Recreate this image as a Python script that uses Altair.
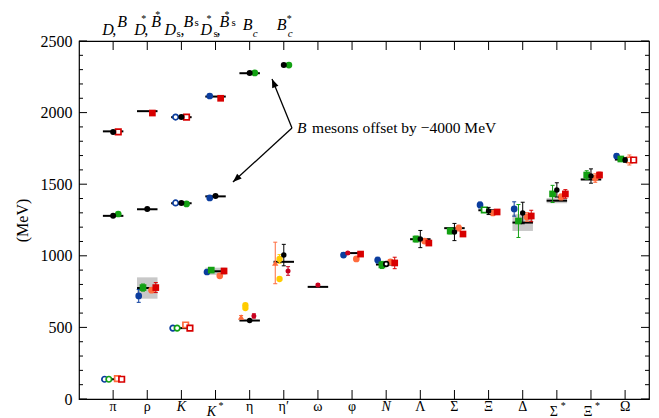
import altair as alt
import pandas as pd

# ---------------- data ----------------
CATS = ["π", "ρ", "K", "K*", "η", "η′", "ω", "φ", "N", "Λ", "Σ", "Ξ", "Δ", "Σ*", "Ξ*", "Ω"]
EXP_MASS = [138, 775, 495, 892, 548, 958, 783, 1019, 939, 1116, 1193, 1318, 1232, 1385, 1533, 1672]
EXP_WIDTH = [0, 149, 0, 50, 0, 0, 0, 0, 0, 0, 0, 0, 117, 36, 9, 0]

# heavy mesons (B mesons offset by -4000 MeV), drawn in the first columns
HEAVY_EXP_CATS = ["π", "ρ", "K", "K*", "π", "ρ", "K", "K*", "η"]
HEAVY_EXP_VALS = [1869, 2010, 1968, 2112, 1279, 1325, 1367, 1415, 2275]

# light hadrons: categories, values, errors
BLUE_CATS = ["ρ", "K*", "φ", "N", "Ξ", "Δ", "Ω"]
BLUE_VALS = [720, 887, 1005, 970, 1355, 1327, 1697]
BLUE_ERRS = [45, 15, 15, 20, 20, 50, 12]
BLUE_OPEN_CATS = ["π", "K"]
BLUE_OPEN_VALS = [138, 495]

GREEN_CATS = ["ρ", "K*", "N", "Λ", "Σ", "Δ", "Σ*", "Ξ*", "Ω"]
GREEN_VALS = [778, 900, 936, 1117, 1173, 1243, 1432, 1564, 1676]
GREEN_ERRS = [25, 15, 25, 20, 20, 115, 60, 30, 15]
GREEN_OPEN_CATS = ["π", "K"]
GREEN_OPEN_VALS = [138, 495]
GREEN_OPEN_SQ_CATS = ["Ξ"]
GREEN_OPEN_SQ_VALS = [1320]

BLACK_CATS = ["η", "η′", "Λ", "Σ", "Ξ", "Δ", "Σ*", "Ξ*", "Ω"]
BLACK_VALS = [548, 1005, 1117, 1166, 1313, 1299, 1460, 1557, 1669]
BLACK_ERRS = [8, 75, 60, 60, 25, 75, 50, 50, 15]
BLACK_OPEN_CATS = ["N"]
BLACK_OPEN_VALS = [943]

ORANGE_CATS = ["ρ", "K*", "φ", "N", "Λ", "Σ", "Ξ", "Δ", "Σ*", "Ξ*"]
ORANGE_VALS = [760, 860, 978, 957, 1103, 1194, 1299, 1271, 1411, 1543]
ORANGE_ERRS = [15, 12, 15, 15, 15, 20, 15, 30, 20, 30]
ORANGE_OPEN_CATS = ["π", "K", "Ω"]
ORANGE_OPEN_VALS = [142, 517, 1669]
ORANGE_OPEN_ERRS = [0, 0, 35]
ORANGE_TRI_CATS = ["η", "η′"]
ORANGE_TRI_VALS = [573, 950]
ORANGE_TRI_ERRS = [10, 145]

RED_CATS = ["ρ", "K*", "φ", "N", "Λ", "Σ", "Ξ", "Δ", "Σ*", "Ξ*"]
RED_VALS = [778, 894, 1012, 950, 1089, 1152, 1306, 1278, 1432, 1564]
RED_ERRS = [35, 10, 10, 40, 15, 15, 12, 40, 30, 20]
RED_OPEN_CATS = ["π", "K", "Ω"]
RED_OPEN_VALS = [138, 495, 1669]

DARKRED_CATS = ["η", "η′", "ω", "φ"]
DARKRED_VALS = [580, 894, 796, 1020]
DARKRED_ERRS = [15, 30, 10, 8]
DARKRED_SLOTS = [0.125, 0.125, 0.0, -0.125]

YELLOW_CATS = ["η", "η", "η′", "η′"]
YELLOW_VALS = [655, 635, 978, 838]
YELLOW_ERRS = [0, 0, 30, 0]

# heavy-light mesons
H_BLACK_CATS = ["π", "π", "ρ", "K", "K", "K*", "η", "η′"]
H_BLACK_VALS = [1865, 1279, 1327, 1969, 1369, 1418, 2277, 2332]
H_BLUE_CATS = ["K*", "K*"]
H_BLUE_VALS = [2116, 1404]
H_BLUE_OPEN_CATS = ["K", "K"]
H_BLUE_OPEN_VALS = [1969, 1369]
H_RED_CATS = ["ρ", "K*"]
H_RED_VALS = [1997, 2100]
H_RED_OPEN_CATS = ["π", "K"]
H_RED_OPEN_VALS = [1865, 1969]
H_GREEN_CATS = ["π", "K", "η", "η′"]
H_GREEN_VALS = [1292, 1362, 2277, 2332]

Y_MAJOR = [0, 500, 1000, 1500, 2000, 2500]
Y_MINOR = [v for v in range(100, 2500, 100) if v % 500 != 0]

# ---------------- styling ----------------
W, H = 570, 358
FONT = "Liberation Serif"
BLUE, GREEN, BLACK = "#0b3d9e", "#12a012", "#000000"
ORANGE, RED, DARKRED, YELLOW = "#ff6b3d", "#d80000", "#c8001e", "#ffcc00"
GRAY = "#c8c8c8"

XS = alt.Scale(domain=[0, 16.7], nice=False, zero=False)
YS = alt.Scale(domain=[0, 2500], nice=False, zero=False)
Y_AXIS = alt.Axis(values=Y_MAJOR, format="d", ticks=False, tickSize=0, domain=False, grid=False,
                  labelFont=FONT, labelFontSize=16, labelColor="black", labelPadding=7,
                  titleFont=FONT, titleFontSize=16, titleFontWeight="normal", titleColor="black",
                  titleX=-57, titleY=H / 2, titleAngle=270, titleAlign="center",
                  titleBaseline="middle")


def X(f):
    return alt.X(f, type="quantitative", scale=XS, axis=None)


def Y(f):
    return alt.Y(f, type="quantitative", scale=YS, axis=Y_AXIS, title="(MeV)")


def cidx(c):
    return CATS.index(c) + 1


def sdf(cats, vals, errs=None, slot=0.0):
    errs = errs if errs is not None else [0] * len(vals)
    rows = []
    for i, (c, v, e) in enumerate(zip(cats, vals, errs)):
        s = slot[i] if isinstance(slot, list) else slot
        rows.append({"x": cidx(c) + s, "v": v, "lo": v - e, "hi": v + e, "e": e})
    return pd.DataFrame(rows)


layers = []

# gray widths
wdf = pd.DataFrame([{"x1": i + 1 - 0.3, "x2": i + 1 + 0.3, "lo": m - w / 2, "hi": m + w / 2}
                    for i, (m, w) in enumerate(zip(EXP_MASS, EXP_WIDTH)) if w > 0])
layers.append(alt.Chart(wdf).mark_rect(color=GRAY).encode(
    x=X("x1"), x2="x2", y=Y("lo"), y2="hi"))

# experimental lines
edf = pd.DataFrame([{"x1": i + 1 - 0.3, "x2": i + 1 + 0.3, "v": m} for i, m in enumerate(EXP_MASS)]
                   + [{"x1": cidx(c) - 0.3, "x2": cidx(c) + 0.3, "v": m}
                      for c, m in zip(HEAVY_EXP_CATS, HEAVY_EXP_VALS)])
layers.append(alt.Chart(edf).mark_rule(color="black", strokeWidth=2).encode(
    x=X("x1"), x2="x2", y=Y("v")))

SERIES = [
    # df, color, shape, open, size
    (sdf(BLUE_CATS, BLUE_VALS, BLUE_ERRS, -0.25), BLUE, "circle", False, 45),
    (sdf(BLUE_OPEN_CATS, BLUE_OPEN_VALS, None, -0.25), BLUE, "circle", True, 30),
    (sdf(GREEN_CATS, GREEN_VALS, GREEN_ERRS, -0.125), GREEN, "square", False, 45),
    (sdf(GREEN_OPEN_CATS, GREEN_OPEN_VALS, None, -0.125), GREEN, "circle", True, 30),
    (sdf(GREEN_OPEN_SQ_CATS, GREEN_OPEN_SQ_VALS, None, -0.125), GREEN, "square", True, 30),
    (sdf(ORANGE_TRI_CATS, ORANGE_TRI_VALS, ORANGE_TRI_ERRS, -0.25), ORANGE, "triangle-up", False, 40),
    (sdf(YELLOW_CATS, YELLOW_VALS, YELLOW_ERRS, -0.125), YELLOW, "circle", False, 40),
    (sdf(ORANGE_CATS, ORANGE_VALS, ORANGE_ERRS, 0.125), ORANGE, "circle", False, 45),
    (sdf(ORANGE_OPEN_CATS, ORANGE_OPEN_VALS, ORANGE_OPEN_ERRS, 0.125), ORANGE, "square", True, 30),
    (sdf(RED_CATS, RED_VALS, RED_ERRS, 0.25), RED, "square", False, 45),
    (sdf(RED_OPEN_CATS, RED_OPEN_VALS, None, 0.25), RED, "square", True, 30),
    (sdf(DARKRED_CATS, DARKRED_VALS, DARKRED_ERRS, DARKRED_SLOTS), DARKRED, "circle", False, 25),
    (sdf(BLACK_CATS, BLACK_VALS, BLACK_ERRS, 0.0), BLACK, "circle", False, 30),
    (sdf(BLACK_OPEN_CATS, BLACK_OPEN_VALS, [10], 0.0), BLACK, "circle", True, 22),
    (sdf(H_BLUE_CATS, H_BLUE_VALS, None, -0.17), BLUE, "circle", False, 45),
    (sdf(H_BLUE_OPEN_CATS, H_BLUE_OPEN_VALS, None, -0.17), BLUE, "circle", True, 30),
    (sdf(H_RED_CATS, H_RED_VALS, None, 0.15), RED, "square", False, 45),
    (sdf(H_RED_OPEN_CATS, H_RED_OPEN_VALS, None, 0.15), RED, "square", True, 30),
    (sdf(H_GREEN_CATS, H_GREEN_VALS, None, 0.15), GREEN, "circle", False, 45),
    (sdf(H_BLACK_CATS, H_BLACK_VALS, None, 0.0), BLACK, "circle", False, 36),
]

for df, col, shape, is_open, size in SERIES:
    err = df[df.e > 0]
    if len(err):
        layers.append(alt.Chart(err).mark_rule(color=col, strokeWidth=1).encode(
            x=X("x"), y=Y("lo"), y2="hi"))
        for end in ("lo", "hi"):
            layers.append(alt.Chart(err).mark_point(shape="stroke", size=16, stroke=col,
                                                    strokeWidth=1, opacity=1).encode(
                x=X("x"), y=Y(end)))
    if is_open:
        mk = alt.Chart(df).mark_point(shape=shape, size=size, filled=True, fill="white",
                                      stroke=col, strokeWidth=1.7, opacity=1)
    else:
        mk = alt.Chart(df).mark_point(shape=shape, size=size, filled=True, color=col, opacity=1)
    layers.append(mk.encode(x=X("x"), y=Y("v")))

# ---------------- inward ticks ----------------
tmaj = pd.DataFrame({"t": Y_MAJOR})
tmin = pd.DataFrame({"t": Y_MINOR})
tx = pd.DataFrame({"c": list(range(1, len(CATS) + 1))})
layers += [
    alt.Chart(tmaj).mark_rule(color="black", strokeWidth=1).encode(y=Y("t"), x=alt.value(0), x2=alt.value(8)),
    alt.Chart(tmin).mark_rule(color="black", strokeWidth=1).encode(y=Y("t"), x=alt.value(0), x2=alt.value(4)),
    alt.Chart(tmaj).mark_rule(color="black", strokeWidth=1).encode(y=Y("t"), x=alt.value(W - 8), x2=alt.value(W)),
    alt.Chart(tmin).mark_rule(color="black", strokeWidth=1).encode(y=Y("t"), x=alt.value(W - 4), x2=alt.value(W)),
    alt.Chart(tx).mark_rule(color="black", strokeWidth=1).encode(x=X("c"), y=alt.value(H - 9), y2=alt.value(H)),
    alt.Chart(tx).mark_rule(color="black", strokeWidth=1).encode(x=X("c"), y=alt.value(0), y2=alt.value(9)),
]

# ---------------- annotation ----------------
ARROW_FROM = (6.24, 1892)
ARROW_TIPS = [(5.655, 2235, 338), (4.51, 1515, 227.5)]
adf = pd.DataFrame([{"x": ARROW_FROM[0], "v": ARROW_FROM[1], "x2": tx_, "v2": tv} for tx_, tv, _ in ARROW_TIPS])
layers.append(alt.Chart(adf).mark_rule(color="black", strokeWidth=1.3).encode(
    x=X("x"), y=Y("v"), x2="x2", y2="v2"))
for tx_, tv, ang in ARROW_TIPS:
    layers.append(alt.Chart(pd.DataFrame({"x": [tx_], "v": [tv]})).mark_point(
        shape="M0,0L0.42,1.1L-0.42,1.1Z", size=256, filled=True, color="black", opacity=1,
        angle=ang).encode(x=X("x"), y=Y("v")))

NOTE_POS = (6.39, 1858)
ndf = pd.DataFrame({"x": [NOTE_POS[0]], "v": [NOTE_POS[1]]})
layers.append(alt.Chart(ndf).mark_text(text="B", font=FONT, fontSize=15.5, fontStyle="italic",
                                       align="left", baseline="alphabetic", color="black").encode(
    x=X("x"), y=Y("v")))
layers.append(alt.Chart(ndf).mark_text(text="mesons offset by \u22124000 MeV", font=FONT, fontSize=15.5,
                                       align="left", baseline="alphabetic", dx=15, color="black").encode(
    x=X("x"), y=Y("v")))

# ---------------- category labels ----------------
BOTTOM_BASE = ["π", "ρ", "K", "K", "η", "η′", "ω", "φ", "N", "Λ", "Σ", "Ξ", "Δ", "Σ", "Ξ", "Ω"]
ITALIC = {"K", "K*", "N"}
STARRED = {"K*": (-4, 3), "Σ*": (-3, 4), "Ξ*": (-3, 4)}


def label(cat_pos, txt, dx, y, size, italic=False, align="left"):
    return alt.Chart(pd.DataFrame({"c": [cat_pos]})).mark_text(
        text=txt, font=FONT, fontSize=size, fontStyle="italic" if italic else "normal",
        align=align, baseline="alphabetic", dx=dx, color="black").encode(
        x=X("c"), y=alt.value(y))


for i, (cat, base) in enumerate(zip(CATS, BOTTOM_BASE)):
    pos = i + 1
    if cat in STARRED:
        bdx, sdx = STARRED[cat]
        layers.append(label(pos, base, bdx, H + 17, 14, cat in ITALIC, "center"))
        layers.append(label(pos, "*", sdx, H + 10, 10, False, "left"))
    else:
        layers.append(label(pos, base, 0, H + 12, 14, cat in ITALIC, "center"))

# top labels: (category, text, dx, y, size, italic)
TOP_PIECES = [
    ("π", "D", -11, -6, 16, True), ("π", ",", -1, -6, 16, False), ("π", "B", 4, -14, 16, True),
    ("ρ", "D", -13, -6, 16, True), ("ρ", "*", -6, -19, 10, False), ("ρ", ",", -3, -6, 16, False),
    ("ρ", "B", 4, -14, 16, True), ("ρ", "*", 8, -23, 10, False),
    ("K", "D", -17, -6, 16, True), ("K", "s", -5, -4, 11, False), ("K", ",", -1, -6, 16, False),
    ("K", "B", 2, -14, 16, True), ("K", "s", 13, -15, 11, False),
    ("K*", "D", -15, -6, 16, True), ("K*", "*", -9, -19, 10, False), ("K*", "s", -2, -4, 11, False),
    ("K*", ",", 1, -6, 16, False), ("K*", "B", 4, -14, 16, True), ("K*", "*", 9, -23, 10, False),
    ("K*", "s", 16, -15, 11, False),
    ("η", "B", -7, -11, 16, True), ("η", "c", 3, -4, 11, True),
    ("η′", "B", -7, -11, 16, True), ("η′", "*", 3, -19, 10, False), ("η′", "c", 4, -4, 11, True),
]
for cat, txt, dx, y, size, it in TOP_PIECES:
    layers.append(label(cidx(cat), txt, dx, y, size, it))

chart = alt.layer(*layers).properties(
    width=W, height=H,
    autosize=alt.AutoSizeParams(type="none"),
    padding={"left": 71, "top": 33, "right": 2, "bottom": 19},
).configure_view(stroke="black", strokeWidth=1.2)

chart.save("out.html", embed_options={"renderer": "svg", "actions": False})
